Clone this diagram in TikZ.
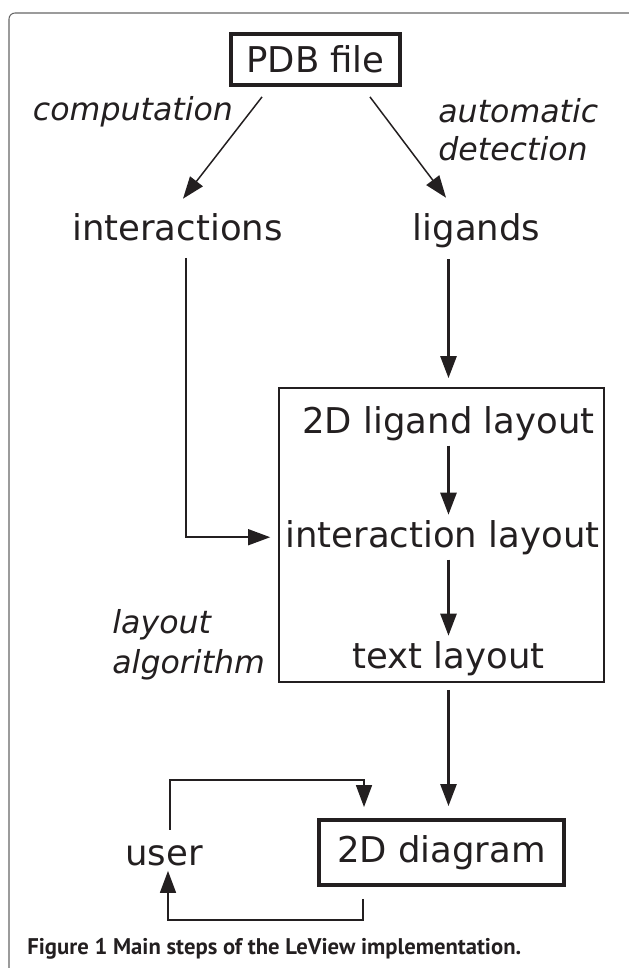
\documentclass[tikz,border=0pt]{standalone}
\usepackage{fontspec}
\setmainfont{DejaVu Sans}
\newfontfamily\capfont{PT Sans}
\usetikzlibrary{arrows.meta}
\definecolor{ink}{HTML}{231F20}
\tikzset{
  txt/.style={font=\fontsize{20.2}{24}\selectfont, inner sep=0.1cm, text=ink},
  lbl/.style={font=\fontsize{18}{22}\selectfont\itshape, inner sep=0pt, text=ink},
  thickbox/.style={txt, draw=ink, line width=2.2pt},
  thinline/.style={draw=ink, line width=0.85pt},
  boldline/.style={draw=ink, line width=1.5pt}
}
\begin{document}
\begin{tikzpicture}[x=0.02cm,y=-0.02cm,>={Triangle[length=0.44cm,width=0.32cm]}]
\clip (0,0) rectangle (629,968);
% frame
\draw[black!60, line width=0.6pt, rounded corners=0.12cm] (9,13) rectangle (700,1050);
% top part
\node[thickbox, minimum width=3.38cm, minimum height=1.02cm] (pdb) at (315.5,59.5) {PDB file};
\node[txt, anchor=base] (interactions) at (177.5,240) {interactions};
\node[txt, anchor=base] (ligands) at (476.5,240) {ligands};
\node[lbl, anchor=base] (comp) at (133,120) {computation};
\node[lbl, anchor=base west] (auto) at (438,122) {automatic};
\node[lbl, anchor=base west] (detect) at (438,160) {detection};
% layout box
\node[draw=ink, line width=1pt, minimum width=6.5cm, minimum height=5.88cm] (layoutbox) at (441.5,535) {};
\node[txt, anchor=base] (lig2d) at (448.5,433) {2D ligand layout};
\node[txt, anchor=base] (interlay) at (442.5,547) {interaction layout};
\node[txt, anchor=base] (textlay) at (448.5,668) {text layout};
\node[lbl, anchor=base west] (lay) at (112,633) {layout};
\node[lbl, anchor=base west] (algo) at (112,673) {algorithm};
% bottom part
\node[thickbox, minimum width=4.9cm, minimum height=1.3cm] (diagram) at (441.5,852.5) {2D diagram};
\node[txt, anchor=base] (user) at (164,865) {user};
\node[anchor=base west, inner sep=0pt, text=ink, font=\capfont\bfseries\fontsize{12.9}{15}\selectfont] (caption) at (27,954) {Figure 1 Main steps of the LeView implementation.};
% arrows
\draw[->, thinline] ([xshift=-1.07cm,yshift=-0.2cm]pdb.south) -- ([xshift=0.11cm,yshift=0.18cm]interactions.north);
\draw[->, thinline] ([xshift=1.09cm,yshift=-0.2cm]pdb.south) -- ([xshift=-0.61cm,yshift=0.2cm]ligands.north);
\draw[->, boldline, shorten <=0.13cm, shorten >=0.18cm] (lig2d |- ligands.south) -- (lig2d |- layoutbox.north);
\draw[->, boldline] (lig2d.south) -- (lig2d.south |- interlay.north);
\draw[->, boldline] (lig2d |- interlay.south) -- (lig2d |- textlay.north);
\draw[->, boldline, shorten <=0.14cm, shorten >=0.24cm] (lig2d |- layoutbox.south) -- (lig2d |- diagram.north);
\draw[->, thinline, shorten <=0.24cm, shorten >=0.2cm] ([xshift=0.17cm]interactions.south) |- (interlay.west);
% user loop
\draw[->, thinline, shorten >=0.22cm] ([xshift=0.12cm,yshift=0.2cm]user.north) -- ++(0,-50) -| ([xshift=-1.55cm]diagram.north);
\draw[->, thinline] ([xshift=-1.57cm,yshift=-0.24cm]diagram.south) -- ++(0,21) -| ([xshift=0.08cm]user.south);
\end{tikzpicture}
\end{document}
